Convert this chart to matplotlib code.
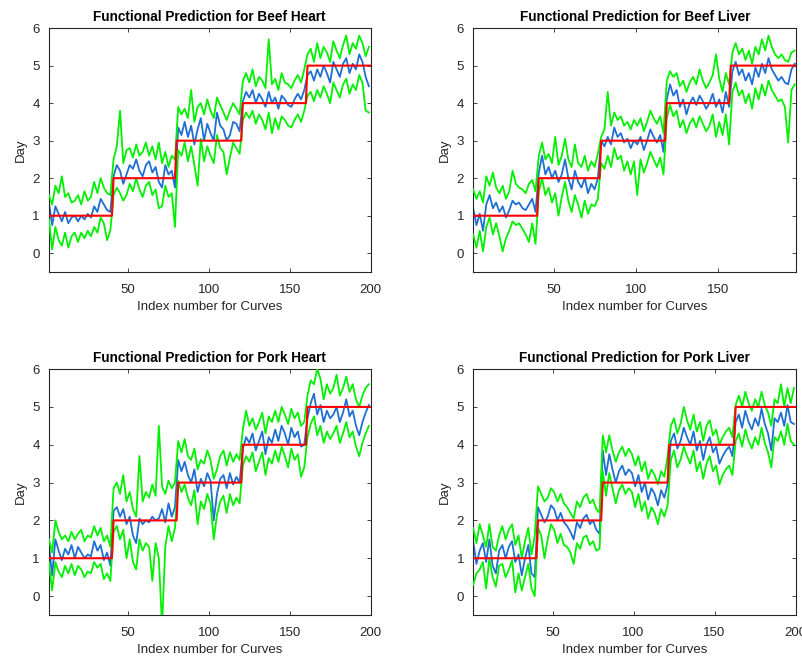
import numpy as np
import matplotlib
matplotlib.use("Agg")
import matplotlib.pyplot as plt

plt.rcParams['font.family'] = ['Liberation Sans', 'DejaVu Sans']

titles = ["Functional Prediction for Beef Heart", "Functional Prediction for Beef Liver",
          "Functional Prediction for Pork Heart", "Functional Prediction for Pork Liver"]
n_curves = [200, 198, 200, 200]
day_counts = [[40, 39, 41, 40, 40], [40, 38, 40, 39, 41], [40, 40, 40, 40, 40], [40, 40, 41, 41, 38]]
days = [1, 2, 3, 4, 5]
x_ticks = [50, 100, 150, 200]
y_ticks = [0, 1, 2, 3, 4, 5, 6]

# Predictions sampled at every second curve index (1, 3, 5, ...)
bh_pred = [1.35, 0.75, 1.25, 1.05, 0.85, 1.1, 0.8, 0.95, 1.0, 0.85, 1.0, 0.9, 1.05, 0.95, 1.25, 1.1, 1.45, 1.3, 1.15, 1.1,
           2.05, 2.35, 2.2, 1.85, 2.1, 2.35, 2.25, 2.5, 2.2, 2.05, 2.35, 2.45, 2.15, 2.3, 1.9, 1.75, 2.35, 2.1, 2.2, 1.75,
           3.35, 3.15, 3.5, 3.1, 3.4, 2.9, 3.3, 3.6, 3.0, 3.45, 3.2, 3.0, 3.75, 3.4, 3.3, 3.0, 3.15, 3.5, 3.45, 3.25,
           4.05, 4.3, 4.15, 4.35, 4.0, 4.25, 4.1, 3.9, 4.3, 4.0, 4.15, 3.85, 4.2, 4.1, 3.95, 3.9, 4.1, 4.25, 4.1, 4.35,
           4.75, 4.85, 4.6, 4.9, 4.7, 5.0, 4.8, 4.55, 5.1, 4.9, 4.7, 5.05, 5.2, 4.8, 5.05, 4.9, 5.3, 5.1, 4.7, 4.45]
bh_upper = [1.55, 1.3, 1.8, 1.6, 2.05, 1.5, 1.6, 1.35, 1.4, 1.55, 1.3, 1.65, 1.4, 1.5, 1.9, 1.6, 2.0, 1.75, 1.6, 1.55,
            2.5, 2.85, 3.8, 2.4, 2.75, 2.8, 2.55, 2.9, 2.6, 2.7, 2.95, 2.6, 2.85, 2.5, 2.95, 2.4, 2.7, 2.3, 2.6, 2.5,
            3.9, 3.7, 3.85, 3.6, 4.35, 3.5, 3.9, 4.0, 3.7, 4.1, 3.8, 3.6, 4.15, 3.95, 3.75, 3.55, 3.8, 4.0, 3.85, 3.7,
            4.6, 4.8, 4.55, 4.9, 4.45, 4.7, 4.6, 4.4, 5.7, 4.5, 4.65, 4.35, 4.8, 4.55, 4.5, 4.4, 4.6, 4.75, 4.55, 4.9,
            5.3, 5.45, 5.1, 5.6, 5.2, 5.5, 5.35, 5.1, 5.65, 5.4, 5.2, 5.55, 5.8, 5.3, 5.6, 5.45, 5.8, 5.6, 5.25, 5.5]
bh_lower = [0.9, 0.1, 0.7, 0.35, 0.2, 0.55, 0.15, 0.45, 0.55, 0.3, 0.55, 0.4, 0.6, 0.45, 0.7, 0.55, 0.95, 0.8, 0.35, 0.6,
            1.55, 1.75, 1.6, 1.4, 1.55, 1.85, 1.65, 2.0, 1.7, 1.5, 1.8, 1.9, 1.55, 1.7, 1.2, 1.25, 1.8, 1.5, 1.6, 0.7,
            2.75, 2.6, 2.95, 2.45, 2.85, 2.35, 1.8, 3.05, 2.45, 2.85, 2.6, 2.4, 3.15, 2.8, 2.7, 2.1, 2.55, 2.95, 2.8, 2.65,
            3.55, 3.75, 3.6, 3.8, 3.45, 3.7, 3.55, 3.3, 3.75, 3.2, 3.6, 3.3, 3.65, 3.55, 3.4, 3.35, 3.55, 3.7, 3.5, 3.8,
            4.2, 4.3, 4.05, 4.35, 4.15, 4.45, 4.25, 4.0, 4.55, 4.35, 4.15, 4.5, 4.65, 4.25, 4.5, 4.35, 4.75, 4.55, 3.8, 3.75]

bl_pred = [1.2, 0.75, 1.05, 0.6, 1.3, 1.55, 1.2, 1.35, 1.1, 1.25, 0.95, 1.15, 1.4, 1.3, 1.35, 1.2, 1.15, 1.3, 1.45, 1.1,
           2.15, 2.6, 2.1, 2.3, 2.0, 2.2, 1.9, 2.1, 2.5, 2.0, 1.7, 2.2, 1.9, 1.75, 2.0, 1.6, 1.85, 1.7, 2.0,
           3.0, 2.85, 3.1, 2.9, 3.35, 3.1, 3.2, 2.95, 3.05, 2.8, 3.0, 2.9, 3.1, 2.75, 3.0, 3.3, 3.1, 2.95, 3.15, 2.7,
           4.1, 4.5, 4.2, 4.35, 3.9, 4.1, 3.7, 4.0, 4.15, 3.95, 4.2, 4.05, 3.85, 4.0, 4.25, 3.9, 4.1, 3.75, 4.3, 3.9,
           4.85, 5.1, 4.75, 4.9, 4.6, 4.8, 4.5, 4.95, 4.7, 5.05, 4.8, 5.2, 4.9, 4.75, 4.6, 4.7, 4.55, 4.5, 4.9, 5.05]
bl_upper = [1.7, 1.45, 1.65, 1.35, 2.05, 1.8, 2.15, 1.75, 1.6, 1.8, 1.45, 1.65, 2.2, 1.85, 1.75, 1.7, 1.6, 1.85, 1.95, 1.65,
            2.6, 2.95, 2.5, 2.65, 2.4, 3.1, 2.35, 2.6, 3.05, 2.5, 2.3, 2.9, 2.4, 2.3, 2.6, 2.2, 2.45, 2.3, 2.65,
            3.1, 3.3, 4.3, 3.4, 3.75, 3.55, 3.65, 3.4, 3.5, 3.3, 3.55, 3.4, 3.6, 3.25, 3.5, 3.8, 3.6, 3.45, 3.65, 3.2,
            4.6, 4.85, 4.7, 4.8, 4.45, 4.6, 4.3, 4.55, 4.7, 4.5, 4.9, 4.6, 4.4, 4.55, 4.75, 5.3, 4.65, 4.3, 4.8, 4.5,
            5.35, 5.6, 5.3, 5.45, 5.15, 5.4, 5.05, 5.5, 5.3, 5.7, 5.4, 5.8, 5.5, 5.3, 5.2, 5.3, 5.15, 5.1, 5.35, 5.4]
bl_lower = [0.5, 0.15, 0.6, 0.05, 0.7, 0.95, 0.5, 0.8, 0.45, 0.05, 0.4, 0.6, 0.85, 0.75, 0.8, 0.65, 0.5, 0.3, 0.8, 0.25,
            1.65, 2.0, 1.55, 1.75, 1.35, 1.6, 1.0, 1.5, 1.9, 1.4, 1.1, 1.55, 1.3, 0.95, 1.4, 1.05, 1.3, 1.25, 1.45,
            2.4, 2.25, 2.6, 2.3, 2.8, 2.5, 2.6, 2.2, 2.45, 2.1, 2.45, 1.55, 2.5, 2.15, 2.4, 2.7, 2.5, 2.3, 2.55, 2.1,
            3.6, 3.95, 3.65, 3.8, 3.35, 3.55, 3.2, 3.45, 3.6, 3.35, 3.65, 3.45, 3.25, 3.4, 3.7, 3.1, 3.5, 3.15, 3.7, 2.9,
            4.3, 4.55, 4.2, 4.35, 4.0, 4.25, 3.85, 4.4, 4.1, 4.5, 4.2, 4.6, 4.35, 4.2, 4.05, 4.1, 3.9, 2.95, 4.35, 4.5]

ph_pred = [1.35, 0.55, 1.5, 1.2, 0.95, 1.25, 1.1, 1.35, 1.0, 1.3, 1.15, 1.0, 1.1, 1.05, 1.45, 1.2, 1.35, 0.95, 1.15, 0.8,
           2.25, 2.35, 2.1, 2.3, 1.9, 2.1, 1.6, 1.4, 2.05, 1.9, 2.0, 1.95, 2.1, 2.0, 2.05, 2.3, 1.95, 2.45, 2.1, 2.35,
           3.6, 3.3, 3.55, 3.2, 3.0, 3.35, 2.75, 3.1, 2.9, 3.25, 3.05, 2.0, 2.7, 3.1, 3.2, 2.85, 3.25, 2.95, 3.15, 3.0,
           3.9, 4.2, 4.05, 4.3, 3.85, 4.1, 4.35, 3.75, 4.2, 4.05, 4.4, 4.1, 4.5, 4.3, 4.0, 4.45, 4.2, 4.35, 3.95, 4.0,
           4.7, 5.1, 5.35, 4.8, 5.05, 4.6, 4.9, 4.7, 4.8, 5.0, 4.6, 4.85, 5.2, 4.75, 4.9, 4.5, 4.25, 4.6, 4.85, 5.05]
ph_upper = [1.5, 1.15, 2.0, 1.7, 1.5, 1.6, 1.45, 1.7, 1.5, 1.65, 1.75, 1.45, 1.6, 1.55, 1.85, 1.6, 1.8, 1.45, 1.6, 1.3,
            2.85, 3.0, 2.7, 3.2, 2.5, 2.75, 2.3, 2.1, 3.7, 2.5, 2.75, 2.6, 2.95, 2.65, 4.5, 2.9, 2.7, 3.05, 2.85, 3.0,
            4.1, 3.8, 4.15, 3.7, 3.6, 3.9, 3.35, 3.6, 3.5, 3.85, 3.6, 3.1, 3.35, 3.7, 3.85, 3.45, 3.8, 3.55, 3.75, 3.6,
            4.4, 4.9, 4.5, 4.7, 4.4, 4.6, 4.85, 4.3, 4.75, 4.6, 4.9, 4.6, 5.0, 4.8, 4.55, 4.95, 4.7, 4.85, 4.5, 4.6,
            5.3, 5.7, 5.6, 6.0, 5.75, 5.2, 5.6, 5.35, 5.5, 5.85, 5.3, 5.5, 5.8, 5.4, 5.6, 5.2, 5.0, 5.3, 5.5, 5.6]
ph_lower = [0.9, 0.15, 0.9, 0.65, 0.5, 0.8, 0.6, 0.85, 0.55, 0.8, 0.7, 0.5, 0.65, 0.6, 0.9, 0.75, 0.85, 0.45, 0.6, 0.4,
            1.7, 1.85, 1.5, 1.75, 1.0, 1.5, 0.9, 0.7, 1.5, 1.2, 1.4, 1.3, 0.4, 1.4, 1.0, -0.8, 1.3, 1.85, 1.45, 1.8,
            3.05, 2.75, 2.95, 2.6, 2.4, 2.8, 1.9, 2.5, 2.3, 2.7, 2.45, 1.5, 2.15, 2.5, 2.65, 2.2, 2.7, 2.4, 2.6, 2.45,
            3.45, 3.7, 3.55, 3.8, 3.3, 3.55, 3.8, 3.2, 3.65, 3.5, 3.85, 3.55, 3.95, 3.7, 3.4, 3.9, 3.6, 3.75, 3.15, 3.4,
            4.2, 4.55, 4.75, 4.25, 4.5, 4.05, 4.35, 4.15, 4.3, 4.5, 4.05, 4.3, 4.6, 4.2, 4.35, 3.95, 3.7, 4.05, 4.3, 4.5]

pl_pred = [1.45, 0.85, 1.2, 1.4, 0.9, 1.5, 0.8, 0.6, 1.2, 1.35, 1.0, 1.3, 1.45, 0.9, 1.1, 0.55, 1.0, 1.35, 0.6, 0.5,
           2.35, 2.15, 1.95, 2.1, 2.4, 2.3, 2.0, 2.2, 1.95, 1.85, 1.7, 1.5, 1.95, 1.8, 2.05, 2.15, 1.9, 2.0, 1.75, 1.65,
           3.85, 3.2, 3.75, 3.35, 3.0, 3.3, 3.45, 3.2, 3.35, 3.25, 2.9, 3.2, 2.75, 3.0, 2.55, 2.85, 2.7, 2.4, 2.8, 2.6, 2.95,
           4.1, 4.3, 3.9, 4.1, 4.45, 4.2, 4.0, 4.35, 3.85, 4.1, 3.6, 4.0, 4.2, 3.8, 3.95, 3.5, 3.7, 3.85, 3.95, 3.7,
           4.6, 4.8, 4.45, 4.9, 4.6, 4.4, 4.7, 4.5, 4.95, 4.55, 4.3, 3.85, 4.7, 4.6, 4.85, 4.5, 5.05, 4.6, 4.55]
pl_upper = [1.8, 1.4, 1.9, 1.6, 1.3, 1.9, 1.3, 1.2, 1.6, 1.85, 1.5, 1.75, 1.9, 1.35, 1.6, 1.0, 1.45, 1.8, 1.1, 1.6,
            2.9, 2.7, 2.5, 2.6, 2.85, 2.75, 2.5, 2.7, 2.45, 2.35, 2.2, 2.05, 2.5, 2.35, 2.6, 2.7, 2.45, 2.55, 2.3, 2.2,
            4.25, 3.8, 4.25, 3.85, 3.55, 3.8, 3.95, 3.7, 3.9, 3.75, 3.45, 3.7, 3.3, 3.55, 3.1, 3.35, 3.2, 2.95, 3.3, 3.15, 3.7,
            4.5, 4.7, 4.3, 4.55, 5.0, 4.65, 4.4, 4.8, 4.35, 4.6, 4.1, 4.5, 4.65, 4.25, 4.4, 4.0, 4.2, 4.35, 4.45, 4.2,
            5.05, 5.3, 5.0, 5.4, 5.1, 4.9, 5.2, 5.0, 5.4, 5.05, 4.85, 4.5, 5.2, 5.1, 5.6, 5.0, 5.5, 5.1, 5.5]
pl_lower = [0.3, 0.6, 0.7, 0.9, 0.2, 1.0, 0.5, 0.25, 0.8, 0.85, 0.5, 0.7, 0.95, 0.1, 0.6, 0.15, 0.5, 0.85, 0.2, 0.0,
            1.8, 1.6, 1.0, 1.5, 1.9, 1.75, 1.4, 1.65, 1.35, 1.3, 1.15, 0.85, 1.4, 1.25, 1.55, 1.6, 1.35, 1.45, 1.2, 1.25,
            3.3, 2.65, 3.25, 2.85, 2.45, 2.8, 2.95, 2.7, 2.85, 2.75, 2.35, 2.7, 2.25, 2.5, 2.05, 2.35, 2.2, 1.9, 2.3, 2.1, 2.4,
            3.6, 3.85, 3.4, 3.6, 3.95, 3.7, 3.5, 3.85, 3.3, 3.55, 3.1, 3.5, 3.7, 3.3, 3.45, 2.95, 3.2, 3.35, 3.45, 3.2,
            4.1, 4.3, 3.95, 4.4, 4.1, 3.9, 4.2, 4.0, 4.45, 4.05, 3.8, 3.4, 4.2, 4.1, 4.35, 4.0, 4.55, 4.1, 4.0]

preds = [bh_pred, bl_pred, ph_pred, pl_pred]
uppers = [bh_upper, bl_upper, ph_upper, pl_upper]
lowers = [bh_lower, bl_lower, ph_lower, pl_lower]

fig = plt.figure(figsize=(8.02, 6.61), dpi=100)
positions = [[0.061, 0.5885, 0.401, 0.369], [0.590, 0.5885, 0.403, 0.369],
             [0.061, 0.0696, 0.401, 0.372], [0.590, 0.0696, 0.402, 0.372]]
text_col = '#262626'
blue = '#1f6fd2'
green = '#00f000'

for k in range(4):
    ax = fig.add_axes(positions[k])
    n = n_curves[k]
    idx_all = np.arange(1, n + 1)
    truth = np.repeat(days, day_counts[k])
    idx_s = np.arange(1, n + 1, 2)
    ax.plot(idx_s, preds[k], color=blue, lw=1.3, zorder=2)
    ax.plot(idx_s, uppers[k], color=green, lw=1.3, zorder=3)
    ax.plot(idx_s, lowers[k], color=green, lw=1.3, zorder=3)
    ax.plot(idx_all, truth, color='red', lw=1.5, zorder=4)
    ax.set_xlim(1, n)
    ax.set_ylim(-0.5, 6)
    ax.set_xticks([t for t in x_ticks if t <= n])
    ax.set_yticks(y_ticks)
    ax.tick_params(direction='in', length=3, width=0.6, top=True, right=True,
                   labelsize=9.5, colors=text_col)
    ax.tick_params(axis='x', pad=8.5)
    ax.tick_params(axis='y', pad=6.5)
    for sp in ax.spines.values():
        sp.set_linewidth(0.8)
        sp.set_color(text_col)
    ax.set_title(titles[k], fontsize=9.8, fontweight='bold', color='black', pad=5)
    ax.set_xlabel("Index number for Curves", fontsize=9.5, color=text_col, labelpad=3.5)
    ax.set_ylabel("Day", fontsize=9.5, color=text_col, labelpad=4)

fig.savefig("out.png", dpi=100)
